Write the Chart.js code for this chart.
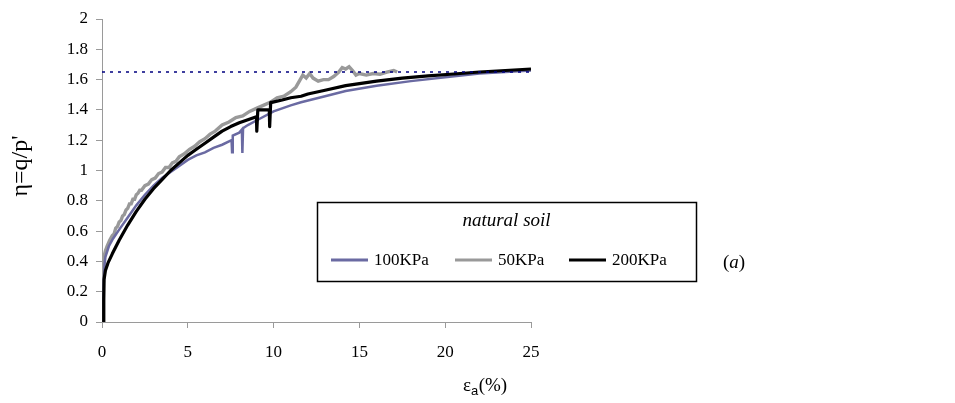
<!DOCTYPE html>
<html><head><meta charset="utf-8">
<script src="https://cdn.jsdelivr.net/npm/chart.js@4.4.0/dist/chart.umd.min.js"></script>
<style>html,body{margin:0;padding:0;background:#fff;}canvas{display:block;}</style>
</head><body>
<canvas id="c" width="955" height="403"></canvas>
<script>
const seriesNames = ['100KPa', '50KPa', '200KPa'];
const seriesColors = ['#6a6aa2', '#999999', '#000000'];

const strain100 = [0.1,0.1,0.15,0.2,0.4,0.64,1.0,1.5,2.0,2.5,3.0,3.5,4.0,4.5,5.0,5.5,6.0,6.5,7.0,7.55,7.58,7.62,8.0,8.15,8.18,8.22,8.5,9.0,10,11,11.6,13,14.2,16,18,20,22,25];
const eta100    = [0,0.25,0.38,0.43,0.50,0.55,0.61,0.69,0.77,0.84,0.90,0.95,0.99,1.03,1.07,1.10,1.12,1.15,1.17,1.20,1.12,1.23,1.25,1.27,1.115,1.28,1.30,1.33,1.39,1.43,1.45,1.49,1.525,1.56,1.59,1.615,1.64,1.66];

const strain50 = [0.1,0.1,0.08,0.1,0.2,0.3,0.45,0.6,0.7,0.8,0.9,1.0,1.1,1.2,1.3,1.4,1.5,1.6,1.7,1.8,1.9,2.0,2.1,2.2,2.3,2.5,2.7,2.9,3.1,3.3,3.5,3.7,3.9,4.1,4.3,4.5,4.8,5.1,5.4,5.7,6.0,6.3,6.6,7.0,7.4,7.8,8.2,8.6,9.0,9.4,9.8,10.2,10.6,11.0,11.3,11.5,11.7,11.9,12.1,12.3,12.6,12.9,13.2,13.5,13.8,14.0,14.2,14.4,14.6,14.8,15.0,15.4,15.8,16.2,16.6,17.0,17.2];
const eta50    = [0,0.2,0.35,0.42,0.47,0.50,0.54,0.57,0.58,0.62,0.63,0.66,0.67,0.70,0.71,0.74,0.75,0.78,0.78,0.81,0.81,0.84,0.85,0.87,0.87,0.90,0.91,0.94,0.95,0.98,0.99,1.02,1.02,1.05,1.06,1.09,1.11,1.14,1.16,1.19,1.21,1.24,1.26,1.30,1.32,1.35,1.36,1.39,1.41,1.43,1.45,1.48,1.49,1.52,1.55,1.59,1.63,1.61,1.64,1.61,1.59,1.60,1.60,1.62,1.65,1.68,1.67,1.685,1.66,1.63,1.64,1.63,1.64,1.635,1.65,1.66,1.65];

const strain200 = [0.1,0.1,0.12,0.2,0.35,0.6,1.0,1.5,2.0,2.5,3.0,3.5,4.0,4.5,5.0,5.5,6.0,6.5,7.0,7.5,8.0,8.5,9.0,9.02,9.08,9.15,9.75,9.77,9.83,9.9,10.5,11,11.6,12,13,14.2,16,17.5,19,20.5,22,23.5,25];
const eta200    = [0,0.15,0.28,0.34,0.39,0.45,0.54,0.64,0.73,0.81,0.88,0.94,1.00,1.05,1.10,1.14,1.18,1.22,1.26,1.29,1.315,1.335,1.355,1.26,1.40,1.40,1.40,1.29,1.45,1.45,1.465,1.48,1.49,1.505,1.53,1.56,1.59,1.61,1.625,1.637,1.65,1.66,1.67];

const refLevel = 1.65;
const xTickLabels = ['0', '5', '10', '15', '20', '25'];
const yTickLabels = ['0', '0.2', '0.4', '0.6', '0.8', '1', '1.2', '1.4', '1.6', '1.8', '2'];
const legendTitle = 'natural soil';
const yTitle = "\u03b7=q/p'";
const xTitleParts = ['\u03b5', 'a', '(%)'];
const panelParts = ['(', 'a', ')'];

function pts(xs, ys) { return xs.map((x, i) => ({x: x, y: ys[i]})); }

const SERIF = "'Liberation Serif', 'Times New Roman', serif";
Chart.defaults.font.family = SERIF;
Chart.defaults.color = '#000';

const textPlugin = {
  id: 'texts',
  afterDraw(chart) {
    const ctx = chart.ctx;
    ctx.save();
    ctx.fillStyle = '#000';
    ctx.save();
    ctx.translate(21, 166);
    ctx.rotate(-Math.PI / 2);
    ctx.font = '24px ' + SERIF;
    ctx.textAlign = 'center';
    ctx.textBaseline = 'middle';
    ctx.fillText(yTitle, 0, 0);
    ctx.restore();
    ctx.textBaseline = 'alphabetic';
    ctx.textAlign = 'left';
    let x = 463, base = 391;
    ctx.font = '19px ' + SERIF;
    ctx.fillText(xTitleParts[0], x, base);
    x += ctx.measureText(xTitleParts[0]).width;
    ctx.font = "13px 'Liberation Sans', Arial, sans-serif";
    ctx.fillText(xTitleParts[1], x, base + 4);
    x += ctx.measureText(xTitleParts[1]).width + 0.5;
    ctx.font = '19px ' + SERIF;
    ctx.fillText(xTitleParts[2], x, base);
    x = 723; base = 268;
    ctx.font = '19px ' + SERIF;
    ctx.fillText(panelParts[0], x, base);
    x += ctx.measureText(panelParts[0]).width;
    ctx.font = 'italic 19px ' + SERIF;
    ctx.fillText(panelParts[1], x, base);
    x += ctx.measureText(panelParts[1]).width;
    ctx.font = '19px ' + SERIF;
    ctx.fillText(panelParts[2], x, base);
    ctx.strokeStyle = '#000';
    ctx.lineWidth = 1.5;
    ctx.strokeRect(317.5, 202.5, 379, 79);
    ctx.font = 'italic 19px ' + SERIF;
    ctx.textAlign = 'center';
    ctx.textBaseline = 'middle';
    ctx.fillText(legendTitle, 506.5, 221);
    const items = [[331, 374], [455, 498], [569, 612]];
    ctx.textAlign = 'left';
    ctx.font = '17px ' + SERIF;
    chart.data.datasets.slice(0, 3).forEach((ds, i) => {
      ctx.strokeStyle = ds.borderColor;
      ctx.lineWidth = 3;
      ctx.beginPath();
      ctx.moveTo(items[i][0], 260);
      ctx.lineTo(items[i][0] + 37, 260);
      ctx.stroke();
      ctx.fillText(ds.label, items[i][1], 261);
    });
    ctx.restore();
  }
};

new Chart(document.getElementById('c'), {
  type: 'scatter',
  data: {
    datasets: [
      {label: seriesNames[0], data: pts(strain100, eta100), borderColor: seriesColors[0], borderWidth: 2.5, showLine: true, pointRadius: 0, order: 2},
      {label: seriesNames[1], data: pts(strain50, eta50), borderColor: seriesColors[1], borderWidth: 3.4, showLine: true, pointRadius: 0, order: 3},
      {label: seriesNames[2], data: pts(strain200, eta200), borderColor: seriesColors[2], borderWidth: 3.2, showLine: true, pointRadius: 0, order: 1, borderJoinStyle: 'round'},
      {label: 'ref', data: [{x: 0, y: refLevel}, {x: 25, y: refLevel}], borderColor: '#000080', borderWidth: 1.5, borderDash: [3, 5], showLine: true, pointRadius: 0, order: 0}
    ]
  },
  options: {
    responsive: false,
    animation: false,
    layout: {padding: {left: 0, top: 19, right: 424, bottom: 0}},
    plugins: {legend: {display: false}, tooltip: {enabled: false}},
    scales: {
      x: {
        type: 'linear', min: 0, max: 25,
        ticks: {stepSize: 5, padding: 14, font: {size: 17}, color: '#000', maxRotation: 0,
          callback: v => xTickLabels[Math.round(v / 5)]},
        grid: {drawOnChartArea: false, drawTicks: true, tickLength: 6, color: '#9a9a9a'},
        border: {color: '#9a9a9a', width: 1},
        afterFit: s => { s.height = 81; s.paddingLeft = 0; s.paddingRight = 0; }
      },
      y: {
        min: 0, max: 2,
        ticks: {stepSize: 0.2, padding: 8, font: {size: 17}, color: '#000',
          callback: v => yTickLabels[Math.round(v * 5)]},
        grid: {drawOnChartArea: false, drawTicks: true, tickLength: 6, color: '#9a9a9a'},
        border: {color: '#9a9a9a', width: 1},
        afterFit: s => { s.width = 102; }
      }
    }
  },
  plugins: [textPlugin]
});
</script>
</body></html>
